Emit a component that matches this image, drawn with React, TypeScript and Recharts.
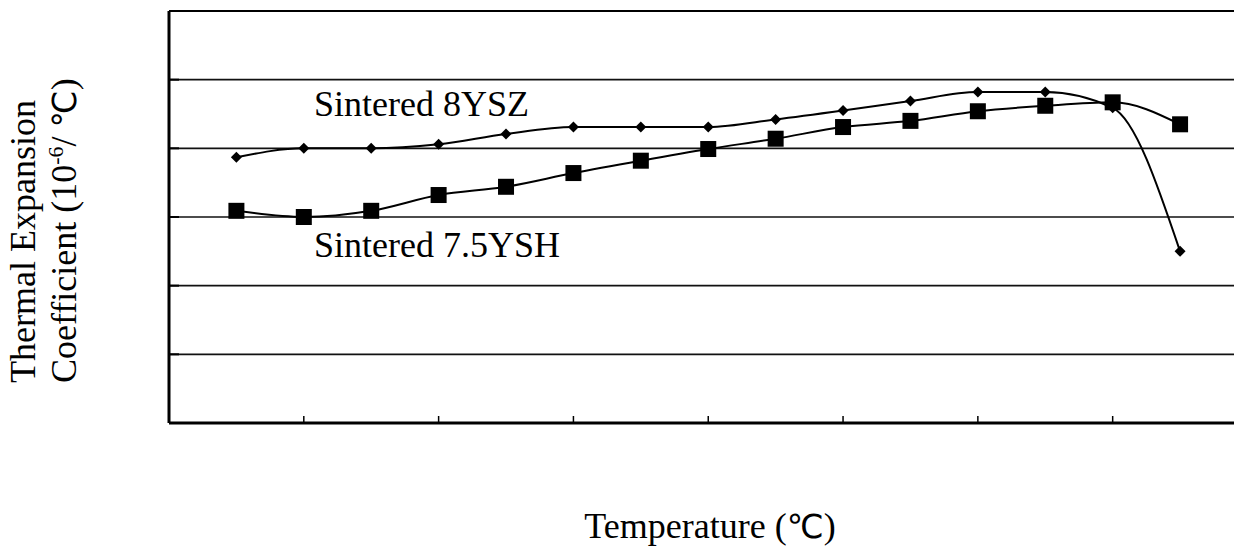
import { LineChart, Line, XAxis, YAxis, ReferenceLine } from 'recharts'

const temperatures = [50, 100, 150, 200, 250, 300, 350, 400, 450, 500, 550, 600, 650, 700, 750]
const sintered8YSZ = [9.87, 10.0, 10.0, 10.06, 10.21, 10.31, 10.31, 10.31, 10.42, 10.55, 10.69, 10.82, 10.82, 10.59, 8.5]
const sintered75YSH = [9.09, 9.0, 9.09, 9.32, 9.44, 9.64, 9.82, 9.99, 10.14, 10.31, 10.4, 10.54, 10.62, 10.67, 10.35]
const xTicks = [100, 200, 300, 400, 500, 600, 700]
const yTicks = [7, 8, 9, 10, 11]

const chartData = temperatures.map((t, i) => ({
  t,
  ysz: sintered8YSZ[i],
  ysh: sintered75YSH[i],
}))

const serif = '"Liberation Serif", "Times New Roman", serif'
const sans = '"DejaVu Sans", Arial, sans-serif'

function Diamond(props: any) {
  const { cx, cy } = props
  if (cx == null || cy == null) return null
  return <path d={`M${cx},${cy - 5.5}L${cx + 5.5},${cy}L${cx},${cy + 5.5}L${cx - 5.5},${cy}Z`} fill="#000" />
}

function Square(props: any) {
  const { cx, cy } = props
  if (cx == null || cy == null) return null
  return <rect x={cx - 8} y={cy - 8} width={16} height={16} fill="#000" />
}

// no tick labels, only the short inward tick marks
const noLabel = () => <g />

export default function App() {
  return (
    <div style={{ position: 'absolute', left: 0, top: 0, width: 1234, height: 547, background: '#fff' }}>
      <LineChart width={1234} height={547} data={chartData} margin={{ top: 11, right: 0, bottom: 0, left: 0 }}>
        <XAxis
          type="number"
          dataKey="t"
          domain={[0, 790]}
          ticks={xTicks}
          allowDataOverflow
          height={124}
          tick={noLabel}
          tickSize={-7}
          stroke="#000"
          strokeWidth={3}
          tickLine={{ stroke: '#000', strokeWidth: 1.5 }}
        />
        <YAxis
          type="number"
          domain={[6, 12]}
          ticks={yTicks}
          allowDataOverflow
          width={169}
          tick={noLabel}
          tickSize={-10}
          stroke="#000"
          strokeWidth={3}
          tickLine={{ stroke: '#000', strokeWidth: 2 }}
        />
        {yTicks.map((v) => (
          <ReferenceLine key={v} y={v} stroke="#111" strokeWidth={1.6} ifOverflow="visible" />
        ))}
        <ReferenceLine y={12} stroke="#000" strokeWidth={2} ifOverflow="visible" />
        <Line
          type="monotone"
          dataKey="ysz"
          stroke="#000"
          strokeWidth={2}
          dot={(p: any) => <Diamond key={`d-${p.index}`} {...p} />}
          isAnimationActive={false}
        />
        <Line
          type="monotone"
          dataKey="ysh"
          stroke="#000"
          strokeWidth={2}
          dot={(p: any) => <Square key={`s-${p.index}`} {...p} />}
          isAnimationActive={false}
        />
      </LineChart>
      <svg width={1234} height={547} style={{ position: 'absolute', left: 0, top: 0, pointerEvents: 'none' }}>
        <g fontFamily={serif} fontSize={36} fill="#000">
          <text x={314} y={116}>Sintered 8YSZ</text>
          <text x={314} y={257}>Sintered 7.5YSH</text>
          <text x={710} y={538} textAnchor="middle">
            Temperature (<tspan fontFamily={sans} fontSize={33}>℃</tspan>)
          </text>
          <text transform="translate(35,383) rotate(-90)">Thermal Expansion</text>
          <text transform="translate(76,383) rotate(-90)">
            Coefficient (10
            <tspan fontSize={22} dy={-13}>-6</tspan>
            <tspan dy={13}>/ </tspan>
            <tspan fontFamily={sans} fontSize={33}>℃</tspan>)
          </text>
        </g>
      </svg>
    </div>
  )
}
